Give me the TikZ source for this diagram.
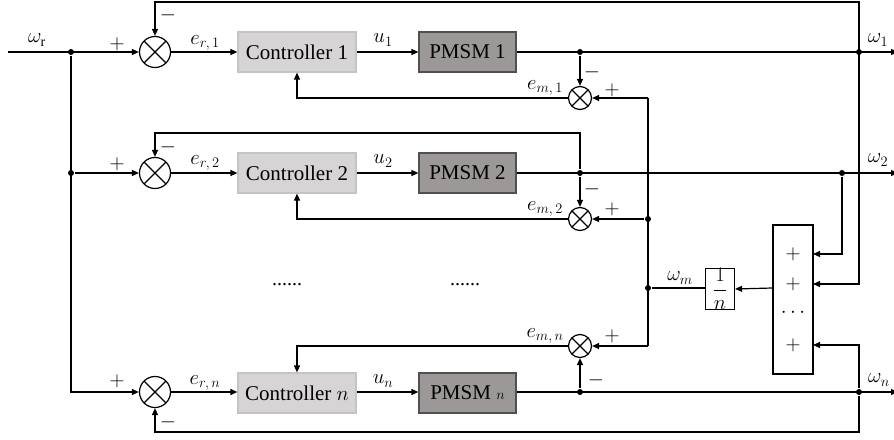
\documentclass[tikz,border=0pt]{standalone}
\usepackage{fontspec}
\setmainfont{Liberation Serif}
\usetikzlibrary{arrows.meta}
\definecolor{ctrlfill}{HTML}{D6D4D5}
\definecolor{ctrldraw}{HTML}{C4C4C4}
\definecolor{pmsmfill}{HTML}{9C9898}
\definecolor{pmsmdraw}{HTML}{505050}
\begin{document}
\begin{tikzpicture}[x=1pt,y=-1pt, line width=1.2pt,
  >={Triangle[length=7pt,width=6pt]},
  font=\fontsize{20}{24}\selectfont,
  ctrl/.style={draw=ctrldraw, fill=ctrlfill, minimum width=118pt, minimum height=40pt, inner sep=0, font=\fontsize{21}{25}\selectfont},
  pmsm/.style={draw=pmsmdraw, fill=pmsmfill, minimum width=97pt, minimum height=40pt, inner sep=0, font=\fontsize{21}{25}\selectfont},
  bigsum/.style={circle, draw, minimum size=31pt, inner sep=0,
    path picture={\draw (path picture bounding box.north west)--(path picture bounding box.south east)
      (path picture bounding box.north east)--(path picture bounding box.south west);}},
  smallsum/.style={bigsum, minimum size=23pt},
  dot/.style={circle, fill, inner sep=0, minimum size=6pt},
  lbl/.style={inner sep=0}]
\useasboundingbox (0,0) rectangle (894,439);

% summing junctions
\node[bigsum] (s1) at (155,52) {};
\node[bigsum] (s2) at (155,173) {};
\node[bigsum] (sn) at (155,392) {};
% controllers and motors
\node[ctrl] (c1) at (297,52) {Controller 1};
\node[ctrl] (c2) at (297,173) {Controller 2};
\node[ctrl] (cn) at (297,393) {Controller $n$};
\node[pmsm] (p1) at (467.5,52) {PMSM 1};
\node[pmsm] (p2) at (467.5,173) {PMSM 2};
\node[pmsm] (pn) at (467.5,393) {PMSM {\fontsize{14}{14}\selectfont$n$}};
% mean error sums
\node[smallsum] (e1) at (580,98) {};
\node[smallsum] (e2) at (580,219) {};
\node[smallsum] (en) at (580,346) {};
% gain and adder
\node[draw, minimum width=29pt, minimum height=40pt, inner sep=0] (inv) at (720,289) {$\displaystyle\frac{1}{n}$};
\node[draw, minimum width=40pt, minimum height=149pt, inner sep=0] (sb) at (793,299.5) {};
\node[lbl] (sp1) at (793,254) {$+$};
\node[lbl] (sp2) at (793,284) {$+$};
\node[lbl] (sp3) at (793,313) {$\cdots$};
\node[lbl] (spn) at (793,345) {$+$};

% junction dots
\node[dot] (j1) at (71,52) {};
\node[dot] (j2) at (71,173) {};
\node[dot] (k1) at (580,52) {};
\node[dot] (k2) at (580,173) {};
\node[dot] (kn) at (580,392) {};
\node[dot] (q1) at (859,52) {};
\node[dot] (q2) at (842,173) {};
\node[dot] (qn) at (859,392) {};
\node[dot] (m2) at (648,219) {};
\node[dot] (mm) at (648,288) {};

% free ends and corners
\coordinate (in) at (8,52);
\coordinate (out1) at (898,52);
\coordinate (out2) at (898,173);
\coordinate (outn) at (898,392);
\coordinate (top) at (859,2);
\coordinate (bot) at (859,432);
\coordinate (fb2) at (580,133);
\coordinate (r1) at (648,98);
\coordinate (rn) at (648,346);
\coordinate (sbi1) at (813,254);
\coordinate (sbi2) at (813,284);
\coordinate (sbin) at (813,345);

% reference distribution
\draw[->] (in) -- (s1.west);
\draw[->] (j1) |- (sn.west);
\draw[->] (j2) -- (s2.west);
% forward paths
\draw[->] (s1) -- (c1);
\draw[->] (s2) -- (c2);
\draw[->] (sn) -- (cn.west |- sn);
\draw[->] (c1) -- (p1);
\draw[->] (c2) -- (p2);
\draw[->] (cn.east |- kn) -- (pn.west |- kn);
\draw[->] (p1.east) -- (out1);
\draw[->] (p2.east) -- (out2);
\draw[->] (pn.east |- kn) -- (outn);
% speed feedback
\draw[->] (q1) -- (top) -| (s1.north);
\draw[->] (k2) -- (fb2) -| (s2.north);
\draw[->] (qn) -- (bot) -| (sn.south);
% adder inputs
\draw[->] (top) |- (sbi2);
\draw[->] (q2) |- (sbi1);
\draw[->] (qn) |- (sbin);
% mean speed
\draw[->] (sb.west |- mm) -- (inv.east);
\draw (inv.west |- mm) -- (mm);
\draw (r1) -- (rn);
\draw[->] (r1) -- (e1.east);
\draw[->] (m2) -- (e2.east);
\draw[->] (rn) -- (en.east);
\draw[->] (k1) -- (e1.north);
\draw[->] (k2) -- (e2.north);
\draw[->] (kn) -- (en.south);
% error to controllers
\draw[->] (e1.west) -| (c1.south);
\draw[->] (e2.west) -| (c2.south);
\draw[->] (en.west) -| (cn.north);

% labels
\node[lbl] at (37,40) {$\omega_{\mathrm{r}}$};
\node[lbl] at (117,44) {$+$};
\node[lbl] at (117,164) {$+$};
\node[lbl] at (117,381) {$+$};
\node[lbl] at (168,15) {$-$};
\node[lbl] at (168,147) {$-$};
\node[lbl] at (168,422) {$-$};
\node[lbl] at (205,43) {$e_{r,\,1}$};
\node[lbl] at (205,163) {$e_{r,\,2}$};
\node[lbl] at (205,383) {$e_{r,\,n}$};
\node[lbl] at (383,40) {$u_1$};
\node[lbl] at (383,161) {$u_2$};
\node[lbl] at (383,381) {$u_n$};
\node[lbl] at (545,88) {$e_{m,\,1}$};
\node[lbl] at (545,209) {$e_{m,\,2}$};
\node[lbl] at (545,336) {$e_{m,\,n}$};
\node[lbl] at (592,72) {$-$};
\node[lbl] at (592,189) {$-$};
\node[lbl] at (596,380) {$-$};
\node[lbl] at (612,90) {$+$};
\node[lbl] at (612,209) {$+$};
\node[lbl] at (612,336) {$+$};
\node[lbl] at (878,40) {$\omega_1$};
\node[lbl] at (878,160) {$\omega_2$};
\node[lbl] at (879,380) {$\omega_n$};
\node[lbl] at (680,278) {$\omega_m$};
\node[lbl] at (287,285) {......};
\node[lbl] at (465,285) {......};
\end{tikzpicture}
\end{document}
